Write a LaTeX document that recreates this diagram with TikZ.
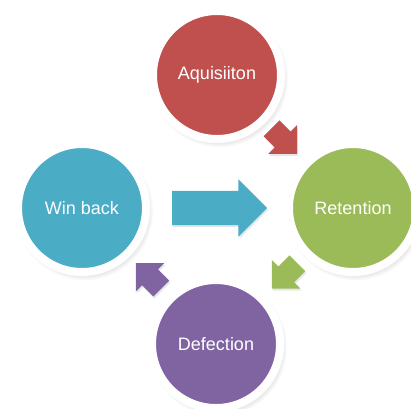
\documentclass[tikz,border=0pt]{standalone}
\usepackage{fontspec}
\setmainfont{Liberation Sans}
\usetikzlibrary{shapes.arrows, shadows, positioning, calc}
\definecolor{acqred}{HTML}{C0504D}
\definecolor{retgreen}{HTML}{9BBB59}
\definecolor{defpurple}{HTML}{8064A2}
\definecolor{winblue}{HTML}{4BACC6}
\tikzset{
    stage/.style={circle, minimum size=128pt, inner sep=0pt, draw=white, line width=8pt, text=white, font=\fontsize{18}{22}\selectfont, circular drop shadow={shadow xshift=2pt, shadow yshift=-3pt, shadow scale=1.08, opacity=0.35}},
    flow/.style={single arrow, anchor=tail, single arrow head extend=9pt, minimum height=36pt, inner xsep=0pt, inner ysep=11pt, draw=none, drop shadow={shadow xshift=1pt, shadow yshift=-2pt, opacity=0.2}}
}

\begin{document}
\begin{tikzpicture}[x=1pt, y=-1pt]
    \useasboundingbox (0,0) rectangle (411,408);

    % Stages of the cycle
    \node (acq) [stage, fill=acqred] at (217,75) {Aquisiiton};
    \node (ret) [stage, fill=retgreen] at (353,208) {Retention};
    \node (def) [stage, fill=defpurple] at (216,344) {Defection};
    \node (win) [stage, fill=winblue] at (82,208) {Win back};

    % Block arrows between the stages, tails set on the line joining them
    \node (toret) [flow, fill=acqred, rotate=-45] at ($(acq)!0.4!(ret)$) {};
    \node (todef) [flow, fill=retgreen, rotate=-135] at ($(ret)!0.405!(def)$) {};
    \node (towin) [flow, fill=defpurple, rotate=135] at ($(def)!0.407!(win)$) {};
    \node (back) [flow, fill=winblue, minimum height=95pt, inner ysep=17pt, single arrow head extend=11.5pt] at ($(win)!0.332!(ret)$) {};
\end{tikzpicture}
\end{document}
